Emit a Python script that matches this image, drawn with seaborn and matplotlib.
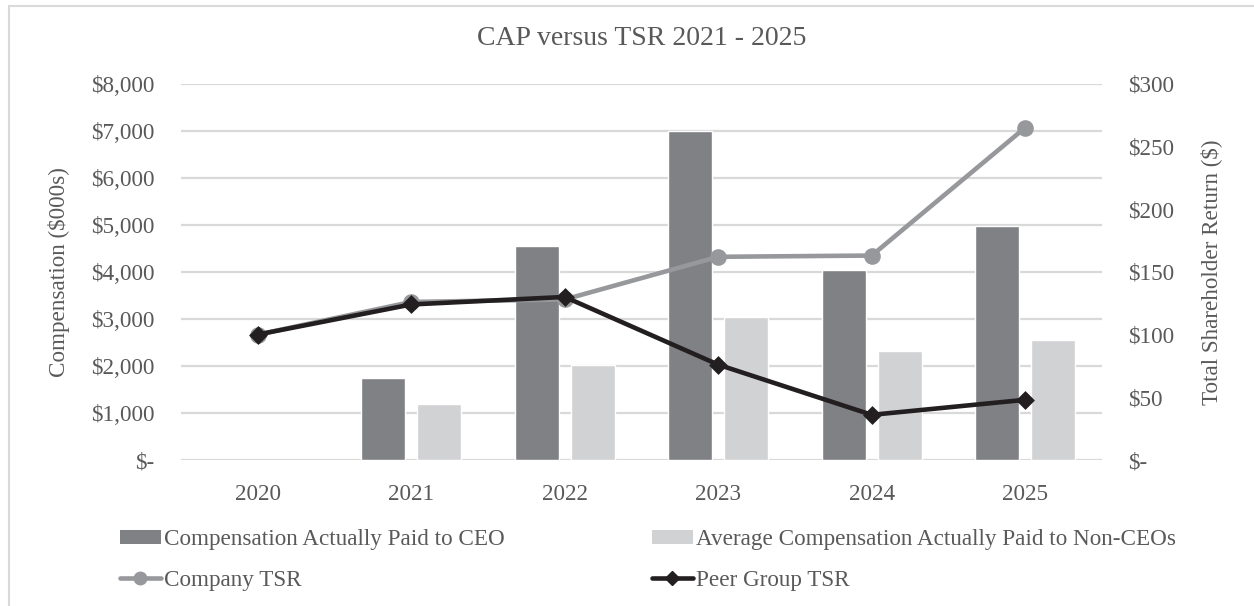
#!/bin/python

'''
CAP versus TSR chart: compensation bars on the left axis,
TSR lines on the right axis.
'''

import numpy as np
import pandas as pd
import matplotlib
matplotlib.use('Agg')
import matplotlib.pyplot as plt
from matplotlib.patches import Patch, Rectangle
from matplotlib.lines import Line2D
from matplotlib.ticker import FuncFormatter
import seaborn as sns

# data
years = ['2020', '2021', '2022', '2023', '2024', '2025']
ceo_cap = [np.nan, 1750, 4550, 7000, 4040, 4970]
non_ceo_cap = [np.nan, 1200, 2020, 3040, 2320, 2550]
company_tsr = [100, 126, 128, 162, 163, 265]
peer_tsr = [100, 124, 130, 76, 36, 48]

bar_names = ['Compensation Actually Paid to CEO',
             'Average Compensation Actually Paid to Non-CEOs']
line_names = ['Company TSR', 'Peer Group TSR']

left_ticks = list(range(0, 8001, 1000))
right_ticks = list(range(0, 301, 50))

# colours
ceo_col = '#808184'
non_ceo_col = '#D1D2D4'
company_col = '#97989B'
peer_col = '#231F20'
text_col = '#595959'
grid_col = '#D9D9D9'

FS = 16.7


def money(v, pos=None):
    if v == 0:
        return '$-'
    return '${:,.0f}'.format(v)


def main():
    sns.set_theme(style='white')
    plt.rcParams['font.family'] = ['Liberation Serif', 'DejaVu Serif']
    plt.rcParams['text.color'] = text_col
    plt.rcParams['xtick.color'] = text_col
    plt.rcParams['ytick.color'] = text_col
    plt.rcParams['axes.labelcolor'] = text_col

    bars = pd.DataFrame({
        'year': years * 2,
        'series': [bar_names[0]] * len(years) + [bar_names[1]] * len(years),
        'value': ceo_cap + non_ceo_cap,
    }).dropna()
    tsr = pd.DataFrame({
        'year': years * 2,
        'series': [line_names[0]] * len(years) + [line_names[1]] * len(years),
        'value': company_tsr + peer_tsr,
    })

    fig = plt.figure(figsize=(12.54, 6.06), dpi=100)
    ax = fig.add_axes([181 / 1254, 1 - 460 / 606, 921 / 1254, 376.3 / 606])
    ax2 = ax.twinx()

    sns.barplot(data=bars, x='year', y='value', hue='series', order=years,
                hue_order=bar_names, palette=[ceo_col, non_ceo_col],
                width=0.73, gap=0.21, saturation=1, errorbar=None,
                legend=False, ax=ax, zorder=2)

    sns.pointplot(data=tsr, x='year', y='value', hue='series', order=years,
                  hue_order=line_names, palette=[company_col, peer_col],
                  markers=['o', 'D'], linestyles=['-', '-'], errorbar=None,
                  legend=False, ax=ax2, markersize=9.5, linewidth=3.3)
    # diamonds a little smaller than the circles
    ax2.lines[-1].set_markersize(7.5)

    # left axis
    ax.set_ylim(0, 8000)
    ax.set_yticks(left_ticks)
    ax.yaxis.set_major_formatter(FuncFormatter(money))
    ax.grid(axis='y', color=grid_col, linewidth=1.6, zorder=0)
    ax.set_axisbelow(True)
    ax.set_xlim(-0.5, len(years) - 0.5)
    ax.set_xlabel('')
    ax.set_ylabel('Compensation ($000s)', fontsize=FS)
    ax.yaxis.set_label_coords(-0.1205, 0.5)
    ax.tick_params(axis='y', length=0, pad=19, labelsize=FS)
    ax.tick_params(axis='x', length=0, pad=17, labelsize=FS)

    # right axis
    ax2.set_ylim(0, 300)
    ax2.set_yticks(right_ticks)
    ax2.yaxis.set_major_formatter(FuncFormatter(money))
    ax2.set_xlabel('')
    ax2.set_ylabel('Total Shareholder Return ($)', fontsize=FS, rotation=90)
    ax2.yaxis.set_label_coords(1.1064, 0.5)
    ax2.tick_params(axis='y', length=0, pad=19, labelsize=FS)

    for a in (ax, ax2):
        for s in a.spines.values():
            s.set_visible(False)

    ax.text(0.5, (460 - 39) / 376.3, 'CAP versus TSR 2021 - 2025',
            transform=ax.transAxes, ha='center', va='center', fontsize=20,
            color=text_col)

    handles = [
        Patch(facecolor=ceo_col, edgecolor='none'),
        Line2D([], [], color=company_col, lw=3.3, marker='o', markersize=9),
        Patch(facecolor=non_ceo_col, edgecolor='none'),
        Line2D([], [], color=peer_col, lw=3.3, marker='D', markersize=7),
    ]
    labels = [bar_names[0], line_names[0], bar_names[1], line_names[1]]
    fig.legend(handles, labels, ncol=2, loc='upper left',
               bbox_to_anchor=(120 / 1254, 1 - 529 / 606), frameon=False,
               fontsize=FS, borderpad=0, borderaxespad=0, handlelength=1.75,
               handleheight=0.55, handletextpad=0.15, columnspacing=6.35,
               labelspacing=0.85, labelcolor=text_col)

    # light frame round the chart area
    fig.patches.append(Rectangle((9 / 1254, -0.1), 1.2, 1.1 - 6 / 606,
                                 transform=fig.transFigure, fill=False,
                                 edgecolor=grid_col, linewidth=1.5))

    fig.savefig('out.png', dpi=100)


if __name__ == '__main__':
    main()
